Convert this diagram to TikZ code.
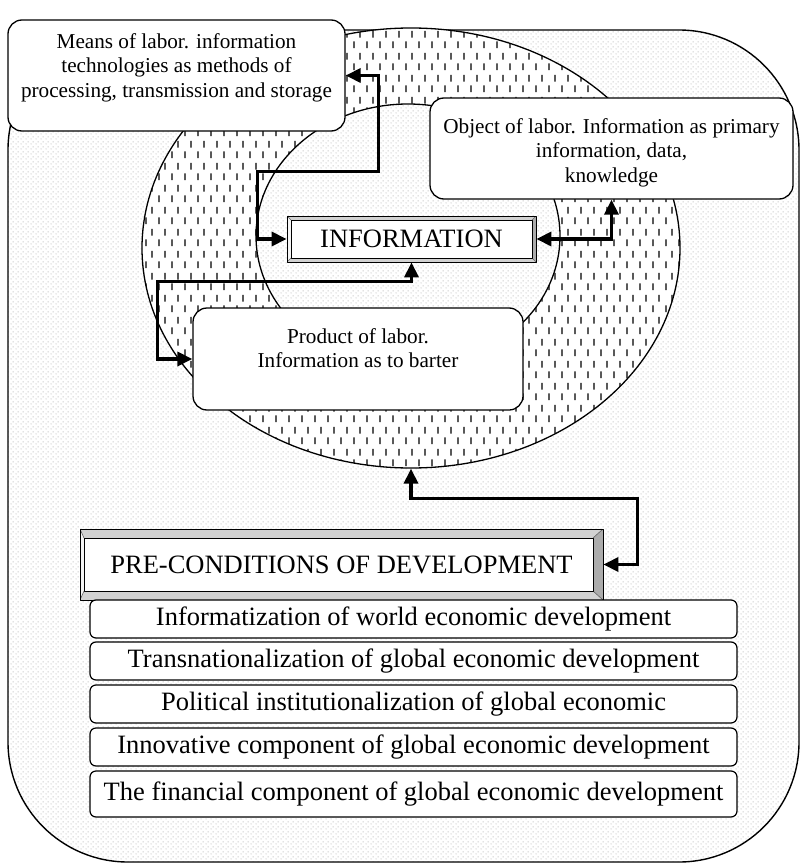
\documentclass[tikz,border=0pt]{standalone}
\usepackage{fontspec}
\setmainfont{Liberation Serif}
\usetikzlibrary{arrows.meta,shapes.geometric,patterns}

% fine grey dots for the frame and the inner field
\pgfdeclarepatternformonly{lightdots}{\pgfqpoint{0pt}{0pt}}{\pgfqpoint{5pt}{5pt}}{\pgfqpoint{5pt}{5pt}}{
  \pgfpathcircle{\pgfqpoint{1.25pt}{1.25pt}}{0.65pt}
  \pgfpathcircle{\pgfqpoint{3.75pt}{3.75pt}}{0.65pt}
  \pgfusepath{fill}}
% short vertical strokes for the ring
\pgfdeclarepatternformonly{vdashes}{\pgfqpoint{0pt}{0pt}}{\pgfqpoint{13pt}{22pt}}{\pgfqpoint{13pt}{22pt}}{
  \pgfsetlinewidth{1.3pt}
  \pgfpathmoveto{\pgfqpoint{3.25pt}{2pt}}\pgfpathlineto{\pgfqpoint{3.25pt}{9pt}}
  \pgfpathmoveto{\pgfqpoint{9.75pt}{13pt}}\pgfpathlineto{\pgfqpoint{9.75pt}{20pt}}
  \pgfusepath{stroke}}

\begin{document}
\begin{tikzpicture}[x=1pt, y=-1pt, line join=round,
  infobox/.style={draw, line width=1.3pt, rounded corners=14pt, fill=white, inner sep=0pt},
  boxtext/.style={font=\fontsize{21.2}{24.5}\selectfont, align=center, inner sep=0pt},
  condbox/.style={draw, line width=1.2pt, rounded corners=6pt, fill=white, minimum width=647pt,
    inner sep=0pt, font=\fontsize{26.5}{30}\selectfont},
  link/.style={line width=3.4pt, line join=miter,
    {Triangle[length=15pt,width=14pt]}-{Triangle[length=15pt,width=14pt]}},
  bevel/.style n args={4}{draw, line width=0.8pt, fill=gray!35, inner sep=0pt,
    font=\fontsize{26.5}{30}\selectfont,
    path picture={
      \fill[gray!65] (path picture bounding box.north east)
        -- ([xshift=-#3,yshift=-#2]path picture bounding box.north east)
        -- ([xshift=-#3,yshift=#4]path picture bounding box.south east)
        -- (path picture bounding box.south east) -- cycle;
      \fill[gray!8] (path picture bounding box.north west)
        -- ([xshift=#1,yshift=-#2]path picture bounding box.north west)
        -- ([xshift=#1,yshift=#4]path picture bounding box.south west)
        -- (path picture bounding box.south west) -- cycle;
      \draw[line width=0.6pt, gray!80!black]
        (path picture bounding box.north west) -- ([xshift=#1,yshift=-#2]path picture bounding box.north west)
        (path picture bounding box.north east) -- ([xshift=-#3,yshift=-#2]path picture bounding box.north east)
        (path picture bounding box.south west) -- ([xshift=#1,yshift=#4]path picture bounding box.south west)
        (path picture bounding box.south east) -- ([xshift=-#3,yshift=#4]path picture bounding box.south east);
      \draw[line width=1pt, fill=white]
        ([xshift=#1,yshift=-#2]path picture bounding box.north west)
        rectangle ([xshift=-#3,yshift=#4]path picture bounding box.south east);
    }}]
 \useasboundingbox (0,0) rectangle (806,864);

 % outer frame
 \draw[line width=1.4pt, rounded corners=120pt, preaction={fill=white},
   pattern=lightdots, pattern color=gray!60] (8,30) rectangle (799,862);

 % ring and inner field
 \node[ellipse, draw, line width=1.3pt, minimum width=538pt, minimum height=440pt, inner sep=0pt,
   preaction={fill=white}, pattern=vdashes] (ring) at (411,248) {};
 \node[ellipse, draw, line width=1.3pt, minimum width=304pt, minimum height=264pt, inner sep=0pt,
   preaction={fill=white}, pattern=lightdots, pattern color=gray!60] (core) at (408,236) {};

 % labor boxes
 \node[infobox, minimum width=337pt, minimum height=111pt] (means) at (176.5,75.5) {};
 \node[boxtext] (meanstext) at ([yshift=8pt]means.center)
   {Means of labor. information\\technologies as methods of\\processing, transmission and storage};
 \node[infobox, minimum width=363pt, minimum height=101pt] (object) at (611.5,148.5) {};
 \node[boxtext] (objecttext) at ([yshift=-4pt]object.center)
   {Object of labor. Information as primary\\information, data,\\knowledge};
 \node[infobox, minimum width=330pt, minimum height=102pt] (product) at (358,359) {};
 \node[boxtext] (producttext) at ([yshift=11pt]product.center)
   {Product of labor.\\Information as to barter};

 \node[bevel={4pt}{4pt}{4pt}{4pt}, minimum width=249pt, minimum height=46pt] (info) at (411.5,239) {INFORMATION};

 % pre-conditions and their list
 \node[bevel={4pt}{9pt}{10pt}{9pt}, minimum width=523pt, minimum height=71pt] (pre) at (341.5,564.5)
   {PRE-CONDITIONS OF DEVELOPMENT};
 \foreach \i/\y/\h/\txt in {1/619/38/Informatization of world economic development,
   2/661/38/Transnationalization of global economic development,
   3/704/38/Political institutionalization of global economic,
   4/747/38/Innovative component of global economic development,
   5/794/46/The financial component of global economic development}
   \node[condbox, minimum height=\h pt] (cond\i) at (413.5,\y) {\txt};

 % connectors
 \draw[link] (means.east) -- ++(33,0) -- ++(0,96) -| ([xshift=-29pt]info.west) -- (info.west);
 \draw[link] (info.east) -| (object.south);
 \draw[link] (info.south) -- ++(0,19) -| ([xshift=-35pt]product.west) -- (product.west);
 \draw[link] (pre.east) -- ++(34,0) |- ([yshift=-30pt]ring.south) -- (ring.south);
\end{tikzpicture}
\end{document}
